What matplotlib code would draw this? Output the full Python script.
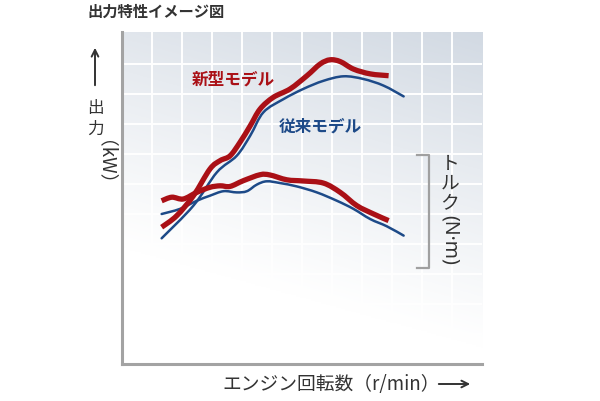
import numpy as np
import matplotlib
matplotlib.use("Agg")
import matplotlib.pyplot as plt
from matplotlib.path import Path
from matplotlib.patches import PathPatch, FancyArrowPatch
from matplotlib.lines import Line2D

plt.rcParams['font.family'] = ['Noto Sans CJK JP', 'DejaVu Sans']

# curves (grid units: 1 cell = 1)
new_power_x = [1.33, 1.83, 2.39, 2.94, 3.28, 3.61, 3.94, 4.28, 4.61, 5.05, 5.61, 6.17, 6.61, 6.94, 7.28, 7.72, 8.28, 8.89]
new_power_y = [4.56, 4.94, 5.61, 6.50, 6.78, 6.94, 7.39, 7.94, 8.50, 8.89, 9.17, 9.61, 10.00, 10.14, 10.08, 9.83, 9.67, 9.61]

old_power_x = [1.33, 2.39, 3.17, 3.83, 4.28, 4.72, 5.39, 6.05, 6.72, 7.39, 8.05, 8.72, 9.39]
old_power_y = [4.19, 5.28, 6.39, 6.94, 7.61, 8.39, 8.83, 9.17, 9.44, 9.59, 9.50, 9.28, 8.92]

new_torque_x = [1.33, 1.67, 2.05, 2.50, 2.94, 3.28, 3.61, 4.05, 4.61, 4.94, 5.50, 6.05, 6.72, 7.28, 7.83, 8.39, 8.89]
new_torque_y = [5.44, 5.56, 5.50, 5.72, 5.89, 5.94, 5.92, 6.11, 6.31, 6.30, 6.14, 6.10, 6.03, 5.72, 5.28, 5.00, 4.78]

old_torque_x = [1.33, 1.94, 2.50, 2.94, 3.39, 3.83, 4.17, 4.50, 4.83, 5.28, 5.83, 6.50, 7.17, 7.72, 8.28, 8.83, 9.39]
old_torque_y = [5.00, 5.17, 5.44, 5.61, 5.76, 5.72, 5.76, 5.98, 6.09, 6.03, 5.92, 5.72, 5.44, 5.17, 4.83, 4.59, 4.28]

title = '出力特性イメージ図'
new_label = '新型モデル'
old_label = '従来モデル'
x_label = 'エンジン回転数（r/min）'
torque_chars = ['ト', 'ル', 'ク']

RED = '#aa1016'
BLUE = '#1d4a88'
TXT = '#333333'

W, H = 600, 402
fig = plt.figure(figsize=(6, 4.02), dpi=100)
fig.patch.set_facecolor('white')

def fx(px):
    return px / W

def fy(py):
    return 1 - py / H

def smooth_path(xs, ys):
    # Catmull-Rom through the read points, drawn as cubic bezier segments
    p = np.column_stack([xs, ys])
    verts = [p[0]]
    codes = [Path.MOVETO]
    n = len(p)
    for i in range(n - 1):
        p0 = p[i - 1] if i > 0 else p[i]
        p3 = p[i + 2] if i + 2 < n else p[i + 1]
        c1 = p[i] + (p[i + 1] - p0) / 6
        c2 = p[i + 1] - (p3 - p[i]) / 6
        verts += [c1, c2, p[i + 1]]
        codes += [Path.CURVE4] * 3
    return Path(verts, codes)

ax = fig.add_axes([fx(121.7), fy(365), (482 - 121.7) / W, (365 - 32.7) / H])
xmax, ymax = 12, (365 - 32.7) / 30
ax.set_xlim(0, xmax)
ax.set_ylim(0, ymax)

# background gradient: white bottom-left -> grey-blue top-right
gx, gy = np.meshgrid(np.linspace(0, 1, 240), np.linspace(0, 1, 240))
t = np.clip(1.0 * gy + 0.3 * gx - 0.35, 0, 1) ** 1.1
c0 = np.array([1.0, 1.0, 1.0])
c1 = np.array([207, 215, 225]) / 255
img = c0 + (c1 - c0) * t[..., None]
ax.imshow(img, extent=[0, xmax, 0, ymax], origin='lower', aspect='auto', zorder=0)

for gxl in range(1, 12):
    ax.axvline(gxl, color='white', lw=1.4, zorder=1)
for gyl in range(1, 11):
    ax.axhline(gyl, color='white', lw=1.4, zorder=1)

for xs, ys in [(old_power_x, old_power_y), (old_torque_x, old_torque_y)]:
    ax.add_patch(PathPatch(smooth_path(xs, ys), fill=False, edgecolor=BLUE, lw=1.8,
                           capstyle='round', joinstyle='round', zorder=3))
for xs, ys in [(new_power_x, new_power_y), (new_torque_x, new_torque_y)]:
    ax.add_patch(PathPatch(smooth_path(xs, ys), fill=False, edgecolor=RED, lw=3.8,
                           capstyle='butt', joinstyle='round', zorder=4))

ax.text(3.72, 9.53, new_label, color=RED, fontsize=12, fontweight='bold', ha='center', va='center', zorder=5)
ax.text(6.61, 7.94, old_label, color=BLUE, fontsize=12, fontweight='bold', ha='center', va='center', zorder=5)

ax.set_xticks([])
ax.set_yticks([])
for side in ['top', 'right']:
    ax.spines[side].set_visible(False)
for side in ['left', 'bottom']:
    ax.spines[side].set_color('#a3a3a3')
    ax.spines[side].set_linewidth(2.2)
    ax.spines[side].set_zorder(6)

# title
fig.text(fx(87), fy(12), title, fontsize=11, fontweight='bold', color=TXT, ha='left', va='center')

# y label (vertical writing)
fig.patches.append(FancyArrowPatch((fx(95), fy(89)), (fx(95), fy(46)), transform=fig.transFigure,
                                   arrowstyle='->', mutation_scale=12, lw=1.4, color=TXT))
fig.text(fx(95), fy(108), '出', fontsize=12, color=TXT, ha='center', va='center')
fig.text(fx(95), fy(129), '力', fontsize=12, color=TXT, ha='center', va='center')
fig.text(fx(95), fy(172), '（kW）', fontsize=13.5, color=TXT, ha='center', va='center', rotation=-90)

# x label
fig.text(fx(222), fy(385), x_label, fontsize=13.5, color=TXT, ha='left', va='center')
fig.patches.append(FancyArrowPatch((fx(436), fy(385)), (fx(473), fy(385)), transform=fig.transFigure,
                                   arrowstyle='->', mutation_scale=12, lw=1.4, color=TXT))

# torque bracket and label
fig.lines.append(Line2D([fx(417), fx(429), fx(429), fx(417)], [fy(156), fy(156), fy(269), fy(269)],
                        transform=fig.transFigure, color='#a0a0a0', lw=1.6))
for i, ch in enumerate(torque_chars):
    fig.text(fx(450), fy(164 + 19.5 * i), ch, fontsize=13.5, color=TXT, ha='center', va='center')
fig.text(fx(450), fy(240), '(N·m)', fontsize=14, color=TXT, ha='center', va='center', rotation=-90,
         family=['Noto Sans', 'Noto Sans CJK JP'])

fig.savefig('out.png', dpi=100)
